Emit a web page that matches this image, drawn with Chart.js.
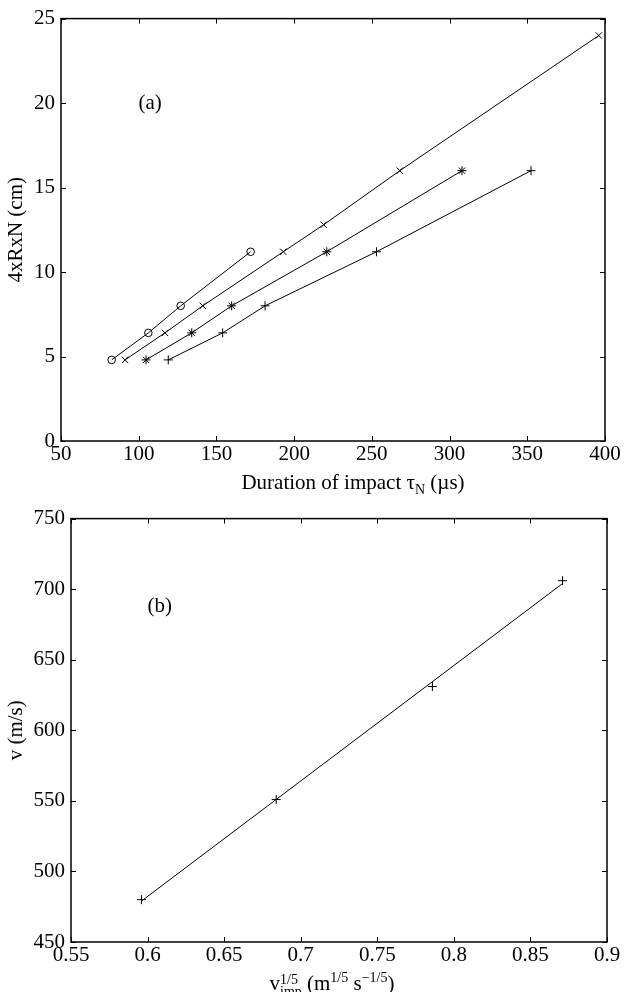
<!DOCTYPE html>
<html>
<head>
<meta charset="utf-8">
<script src="https://cdn.jsdelivr.net/npm/chart.js@4.4.1/dist/chart.umd.min.js"></script>
<style>
  body { margin: 0; background: #fff; width: 634px; height: 992px; position: relative; overflow: hidden;
         font-family: "Liberation Serif", "DejaVu Serif", serif; color: #000; }
  canvas { position: absolute; left: 0; }
  #chartA { top: 0; }
  #chartB { top: 500px; }
  .xtitle { position: absolute; font-size: 21px; white-space: nowrap; transform: translateX(-50%); line-height: 24px; }
  .xtitle sub, .xtitle sup { font-size: 14px; }
  .stack { display: inline-block; vertical-align: -0.45em; font-size: 14px; line-height: 12px; }
  .stack span { display: block; }
</style>
</head>
<body>
<canvas id="chartA" width="634" height="500"></canvas>
<canvas id="chartB" width="634" height="492"></canvas>
<div class="xtitle" style="left:353px; top:470px">Duration of impact τ<sub>N</sub> (µs)</div>
<div class="xtitle" style="left:332px; top:966px">v<span class="stack"><span>1/5</span><span>imp</span></span> (m<sup>1/5</sup> s<sup>−1/5</sup>)</div>

<script>
// panel (a): length 4xRxN (cm) against duration of impact (µs), one series per marker
const durCircle = [82.6, 106.2, 127.0, 172];
const lenCircle = [4.8, 6.4, 8.0, 11.2];
const durCross = [91.2, 116.9, 141.2, 193, 219, 268, 396];
const lenCross = [4.8, 6.4, 8.0, 11.2, 12.8, 16, 24];
const durStar = [104.7, 134.1, 159.8, 221, 308];
const lenStar = [4.8, 6.4, 8.0, 11.2, 16];
const durPlus = [119, 154, 181.3, 253, 352.4];
const lenPlus = [4.8, 6.4, 8.0, 11.2, 16];

// panel (b): v (m/s) against v_imp^(1/5)
const vImp = [0.596, 0.684, 0.786, 0.871];
const velocity = [480, 551, 631, 706];
const fitX = [0.596, 0.871];
const fitY = [479, 704];

const FONT = "'Liberation Serif', 'DejaVu Serif', serif";

const pairs = (xs, ys) => xs.map((x, i) => ({ x, y: ys[i] }));

// box with inward ticks on all four sides, like the original plot
const framePlugin = {
  id: "frame",
  afterDraw(chart, args, opts) {
    const { ctx, chartArea: a } = chart;
    const x = chart.scales.x, y = chart.scales.y;
    const L = 5;
    ctx.save();
    ctx.strokeStyle = "#000";
    ctx.lineWidth = 1;
    ctx.beginPath();
    x.ticks.forEach(t => {
      const p = Math.round(x.getPixelForValue(t.value)) + 0.5;
      ctx.moveTo(p, a.bottom); ctx.lineTo(p, a.bottom - L);
      ctx.moveTo(p, a.top); ctx.lineTo(p, a.top + L);
    });
    y.ticks.forEach(t => {
      const p = Math.round(y.getPixelForValue(t.value)) + 0.5;
      ctx.moveTo(a.left, p); ctx.lineTo(a.left + L, p);
      ctx.moveTo(a.right, p); ctx.lineTo(a.right - L, p);
    });
    ctx.stroke();
    ctx.lineWidth = 1.5;
    ctx.strokeRect(a.left, a.top, a.right - a.left, a.bottom - a.top);
    if (opts.text) {
      ctx.fillStyle = "#000";
      ctx.font = "21px " + FONT;
      ctx.textAlign = "center";
      ctx.textBaseline = "middle";
      ctx.fillText(opts.text, x.getPixelForValue(opts.x), y.getPixelForValue(opts.y));
    }
    ctx.restore();
  }
};

const lineSet = (xs, ys, style, radius) => ({
  data: pairs(xs, ys),
  showLine: true,
  borderColor: "#000",
  borderWidth: 1,
  pointStyle: style,
  pointRadius: radius,
  pointBorderColor: "#000",
  pointBackgroundColor: "rgba(0,0,0,0)",
  pointBorderWidth: 1
});

const axis = (min, max, step, size, titleText) => ({
  type: "linear",
  min, max,
  grid: { display: false, drawTicks: false },
  border: { display: false },
  ticks: {
    stepSize: step, color: "#000", font: { family: FONT, size: 21 },
    padding: titleText ? 6 : 1,
    callback: v => String(Number(v.toFixed(2)))
  },
  title: titleText ? { display: true, text: titleText, color: "#000", font: { family: FONT, size: 21 }, padding: { top: 4, bottom: 0 } } : { display: false },
  afterFit: s => { if (s.isHorizontal()) s.height = size; else s.width = size; }
});

const baseOptions = (pad, xAxis, yAxis, label) => ({
  responsive: false,
  animation: false,
  layout: { padding: pad },
  plugins: { legend: { display: false }, tooltip: { enabled: false }, frame: label },
  scales: { x: xAxis, y: yAxis }
});

new Chart(document.getElementById("chartA"), {
  type: "scatter",
  data: {
    datasets: [
      lineSet(durCircle, lenCircle, "circle", 3.8),
      lineSet(durCross, lenCross, "crossRot", 4.5),
      lineSet(durStar, lenStar, "star", 4.5),
      lineSet(durPlus, lenPlus, "cross", 4.5)
    ]
  },
  options: baseOptions(
    { top: 12, right: 29, left: 0, bottom: 0 },
    axis(50, 400, 50, 59),
    axis(0, 25, 5, 61, "4xRxN (cm)"),
    { text: "(a)", x: 107.3, y: 20 }
  ),
  plugins: [framePlugin]
});

new Chart(document.getElementById("chartB"), {
  type: "scatter",
  data: {
    datasets: [
      {
        data: pairs(fitX, fitY),
        showLine: true, borderColor: "#000", borderWidth: 1, pointRadius: 0
      },
      {
        data: pairs(vImp, velocity),
        showLine: false, pointStyle: "cross", pointRadius: 4.5,
        pointBorderColor: "#000", pointBorderWidth: 1
      }
    ]
  },
  options: baseOptions(
    { top: 16, right: 27, left: 0, bottom: 0 },
    axis(0.55, 0.9, 0.05, 50),
    axis(450, 750, 50, 71, "v (m/s)"),
    { text: "(b)", x: 0.608, y: 688 }
  ),
  plugins: [framePlugin]
});
</script>
</body>
</html>
